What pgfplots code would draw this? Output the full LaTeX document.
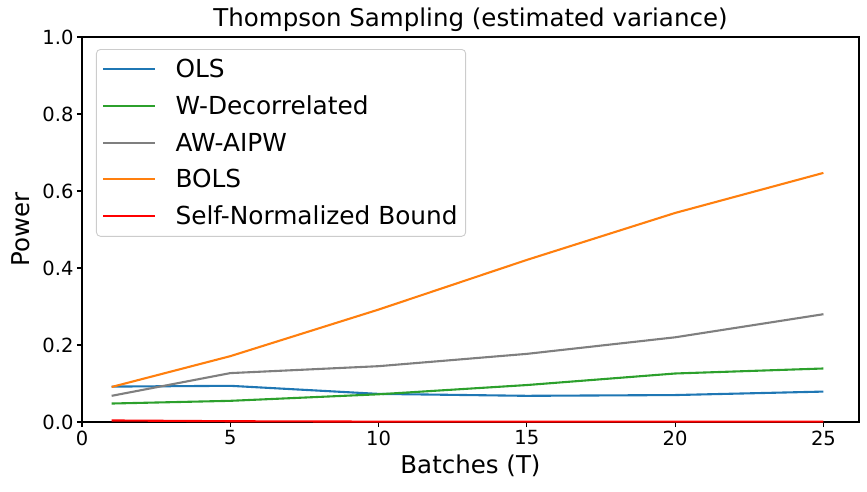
\documentclass[border=0pt]{standalone}
\usepackage{fontspec}
\setmainfont{DejaVu Sans}
\usepackage{pgfplots}
\pgfplotsset{compat=1.18}
\definecolor{tblue}{HTML}{1F77B4}
\definecolor{tgreen}{HTML}{2CA02C}
\definecolor{tgray}{HTML}{7F7F7F}
\definecolor{torange}{HTML}{FF7F0E}
\definecolor{tred}{HTML}{FF0000}
\begin{document}
\begin{tikzpicture}
\begin{axis}[
  scale only axis,
  width=777pt, height=385pt,
  xmin=0, xmax=26.2, ymin=0, ymax=1,
  xtick={0,5,10,15,20,25},
  ytick={0,0.2,0.4,0.6,0.8,1.0},
  yticklabel style={/pgf/number format/.cd, fixed, fixed zerofill, precision=1},
  /pgf/number format/assume math mode=true,
  tick align=outside,
  major tick length=5pt,
  tick style={black, line width=1.1pt},
  axis line style={line width=1.1pt},
  tick label style={font=\fontsize{19.5}{23}\selectfont},
  xtick pos=bottom, ytick pos=left,
  title={Thompson Sampling (estimated variance)},
  title style={font=\fontsize{24.5}{28}\selectfont, yshift=-4pt},
  xlabel={Batches (T)},
  ylabel={Power},
  label style={font=\fontsize{24.5}{28}\selectfont},
  xlabel style={yshift=-3pt},
  ylabel style={yshift=6pt},
  legend cell align=left,
  legend style={
    at={(0,1)}, anchor=north west, xshift=14pt, yshift=-12pt,
    draw=black!20, rounded corners=4pt, line width=0.9pt,
    font=\fontsize{24.8}{28}\selectfont,
    inner xsep=6pt, inner ysep=8pt,
    row sep=12.7pt,
  },
  legend image code/.code={\draw[#1, line width=2.1pt] (0pt,0pt) -- (52pt,0pt); \path (69pt,0pt);},
  every axis plot/.append style={line width=2.1pt},
]
\addplot[tblue] coordinates {(1,0.092)(5,0.094)(10,0.073)(15,0.068)(20,0.070)(25,0.079)};
\addlegendentry{OLS}
\addplot[tgreen] coordinates {(1,0.048)(5,0.055)(10,0.072)(15,0.096)(20,0.126)(25,0.139)};
\addlegendentry{W-Decorrelated}
\addplot[tgray] coordinates {(1,0.068)(5,0.127)(10,0.145)(15,0.177)(20,0.220)(25,0.280)};
\addlegendentry{AW-AIPW}
\addplot[torange] coordinates {(1,0.091)(5,0.171)(10,0.292)(15,0.421)(20,0.543)(25,0.647)};
\addlegendentry{BOLS}
\addplot[tred] coordinates {(1,0.004)(5,0.002)(10,0.001)(15,0.001)(20,0.001)(25,0.001)};
\addlegendentry{Self-Normalized Bound}
\end{axis}
\pgfresetboundingbox
\path (-82pt,-69pt) rectangle (785pt,422pt);
\end{tikzpicture}
\end{document}
